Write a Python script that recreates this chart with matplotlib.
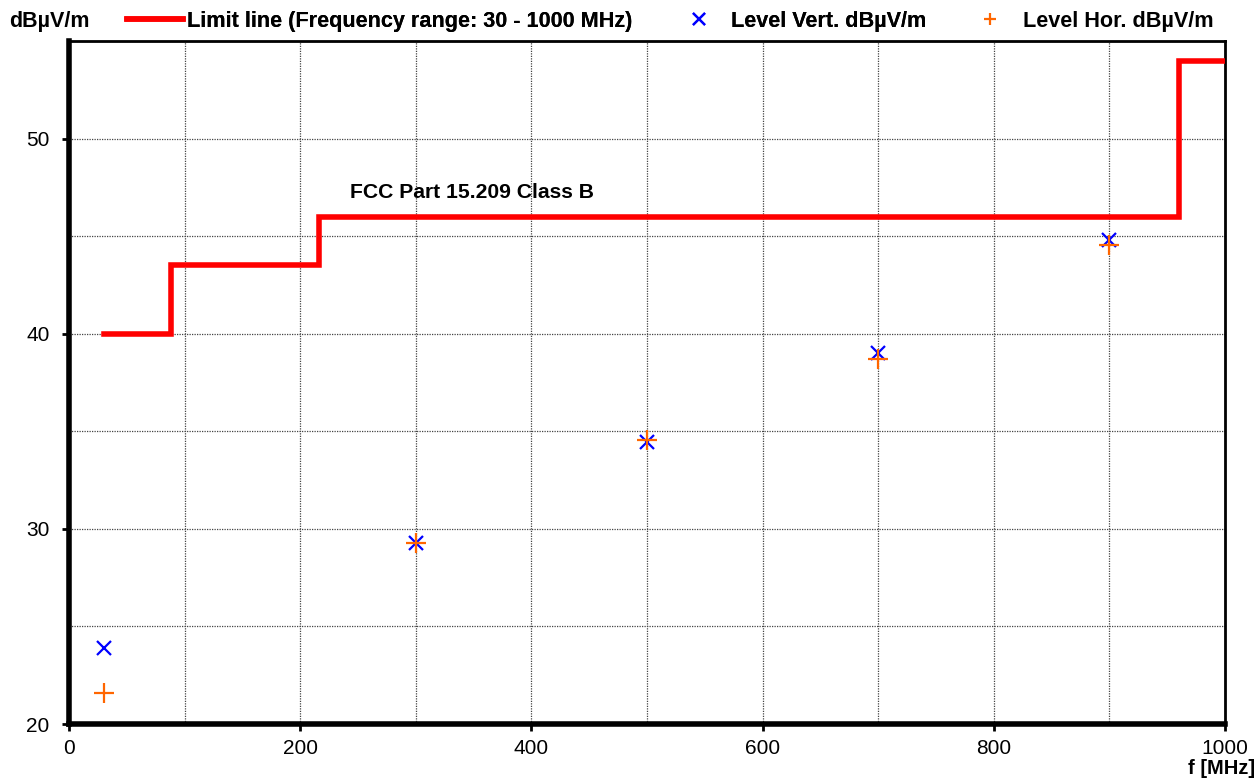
import matplotlib
matplotlib.use("Agg")
import matplotlib.pyplot as plt
from matplotlib.ticker import MultipleLocator

plt.rcParams['font.family'] = ['Liberation Sans', 'DejaVu Sans']

# limit line (FCC Part 15.209 Class B), step edges in MHz
limit_f = [30, 88, 88, 216, 216, 960, 960, 1000]
limit_db = [40, 40, 43.5, 43.5, 46, 46, 54, 54]

# measured levels
freq = [30, 300, 500, 700, 900]
level_vert = [23.9, 29.3, 34.45, 39.0, 44.8]
level_hor = [21.6, 29.3, 34.55, 38.7, 44.55]

fig = plt.figure(figsize=(12.59, 7.79), dpi=100)
ax = fig.add_axes([69/1259, 55/779, (1225-69)/1259, (724-41)/779])

h_lim, = ax.plot(limit_f, limit_db, color='#ff0000', lw=4, solid_joinstyle='miter',
                 label='Limit line (Frequency range: 30 - 1000 MHz)', zorder=3)
h_v, = ax.plot(freq, level_vert, 'x', color='#0000ff', ms=10.5, mew=1.6,
               label='Level Vert. dBµV/m', zorder=4)
h_h, = ax.plot(freq, level_hor, '+', color='#ff6600', ms=14, mew=1.6,
               label='Level Hor. dBµV/m', zorder=4)

ax.text(243, 47.25, 'FCC Part 15.209 Class B', fontsize=15.2, fontweight='bold',
        va='center')

ax.set_xlim(0, 1000)
ax.set_ylim(20, 55)
ax.xaxis.set_major_locator(MultipleLocator(200))
ax.xaxis.set_minor_locator(MultipleLocator(100))
ax.yaxis.set_major_locator(MultipleLocator(10))
ax.yaxis.set_minor_locator(MultipleLocator(5))
ax.grid(which='both', color='#444444', ls=(0, (1, 1)), lw=0.9)
ax.set_axisbelow(True)
ax.tick_params(which='major', direction='out', length=5, width=2, labelsize=15, pad=6)
ax.tick_params(axis='y', which='major', pad=9)
ax.tick_params(which='minor', length=0)
ax.set_yticks([20, 30, 40, 50])

for s in ['left', 'bottom']:
    ax.spines[s].set_linewidth(4)
for s in ['top', 'right']:
    ax.spines[s].set_linewidth(2)

fig.text(9/1259, 1 - 22/779, 'dBµV/m', fontsize=15.5, fontweight='bold', va='center')
fig.text(1255/1259, 1 - 768/779, 'f [MHz]', fontsize=14.5, fontweight='bold',
         va='center', ha='right')

# legend entries in a row above the plot
lprops = dict(loc='center left', frameon=False, prop={'weight': 'bold', 'size': 15.6},
              borderaxespad=0, borderpad=0)
leg1 = fig.legend([h_lim], [h_lim.get_label()], bbox_to_anchor=(127/1259, 1 - 21/779),
                  handlelength=2.57, handletextpad=0.18, **lprops)
fig.add_artist(leg1)
leg2 = fig.legend([h_v], [h_v.get_label()], bbox_to_anchor=(687/1259, 1 - 21/779),
                  handlelength=1.1, handletextpad=0.92, markerscale=0.8, **lprops)
fig.add_artist(leg2)
fig.legend([h_h], [h_h.get_label()], bbox_to_anchor=(978/1259, 1 - 21/779),
           handlelength=1.1, handletextpad=0.96, markerscale=0.65, **lprops)

fig.savefig('out.png', dpi=100)
